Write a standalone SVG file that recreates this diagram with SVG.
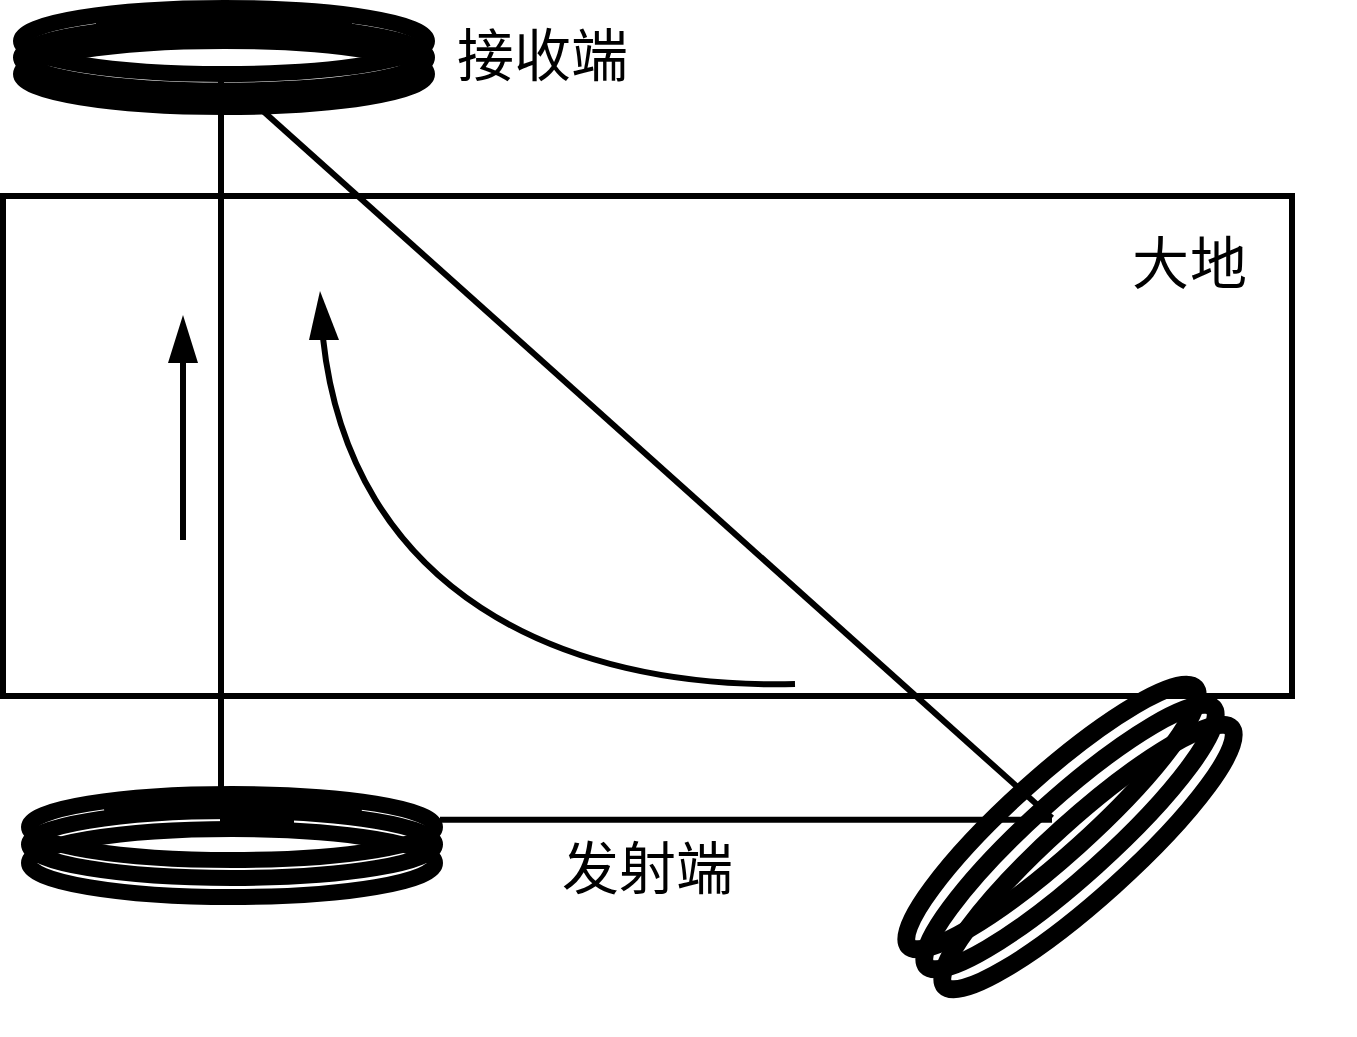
<svg xmlns="http://www.w3.org/2000/svg" width="1357" height="1037" viewBox="0 0 1357 1037">
<style>
.w{fill:none;stroke:#000;stroke-width:6}
.c{fill:none;stroke:#000;stroke-width:16}
.p{fill:none;stroke:#000;stroke-width:7}
.t{fill:none;stroke:#000;stroke-width:18}
.h{fill:#000;stroke:none}
text{font-family:"Noto Sans CJK SC","Liberation Serif",serif;font-size:57px;font-weight:400;fill:#000}
</style>
<rect width="1357" height="1037" fill="#fff"/>
<g id="ground"><rect class="w" x="3" y="196" width="1289" height="500"/><text x="1132" y="284" textLength="115">大地</text></g>
<g id="connectors">
<path class="w" d="M221 81V789"/>
<path class="w" d="M234 85L1052 818"/>
<path class="w" d="M440 819.700H1052"/>
<path class="w" d="M183 540V360"/><path class="h" d="M183 315L198 363H168Z"/>
<path class="w" d="M795 684C560 690 350 590 323 338"/><path class="h" d="M320 291L339 340H309Z"/>
</g>
<g id="receiver">
<ellipse class="c" cx="224" cy="41" rx="203" ry="33"/>
<ellipse class="c" cx="224" cy="57.500" rx="203" ry="33"/>
<ellipse class="c" cx="224" cy="74" rx="203" ry="33"/>
<path class="p" d="M96 23.400A203 33 0 0 1 352 23.400"/>
<path class="p" d="M21 66A203 33 0 0 1 427 66"/>
<path class="p" d="M21 66A203 33 0 0 0 427 66"/>
<text x="457" y="76" textLength="171">接收端</text>
</g>
<g id="transmitter">
<ellipse class="c" cx="232" cy="827" rx="203" ry="33"/>
<ellipse class="c" cx="232" cy="844.500" rx="203" ry="33.500"/>
<ellipse class="c" cx="232" cy="863" rx="203" ry="34"/>
<path class="p" d="M104 809A203 33 0 0 1 362 809"/>
<path class="h" d="M220 812H294V825H220Z"/>
<text x="562" y="889" textLength="171">发射端</text>
</g>
<g id="tilted-coil">
<ellipse class="t" cx="1052" cy="817" rx="193" ry="39" transform="rotate(-42 1052 817)"/>
<ellipse class="t" cx="1070" cy="837" rx="193" ry="39" transform="rotate(-42 1070 837)"/>
<ellipse class="t" cx="1088" cy="857" rx="193" ry="39" transform="rotate(-42 1088 857)"/>
</g>
</svg>
